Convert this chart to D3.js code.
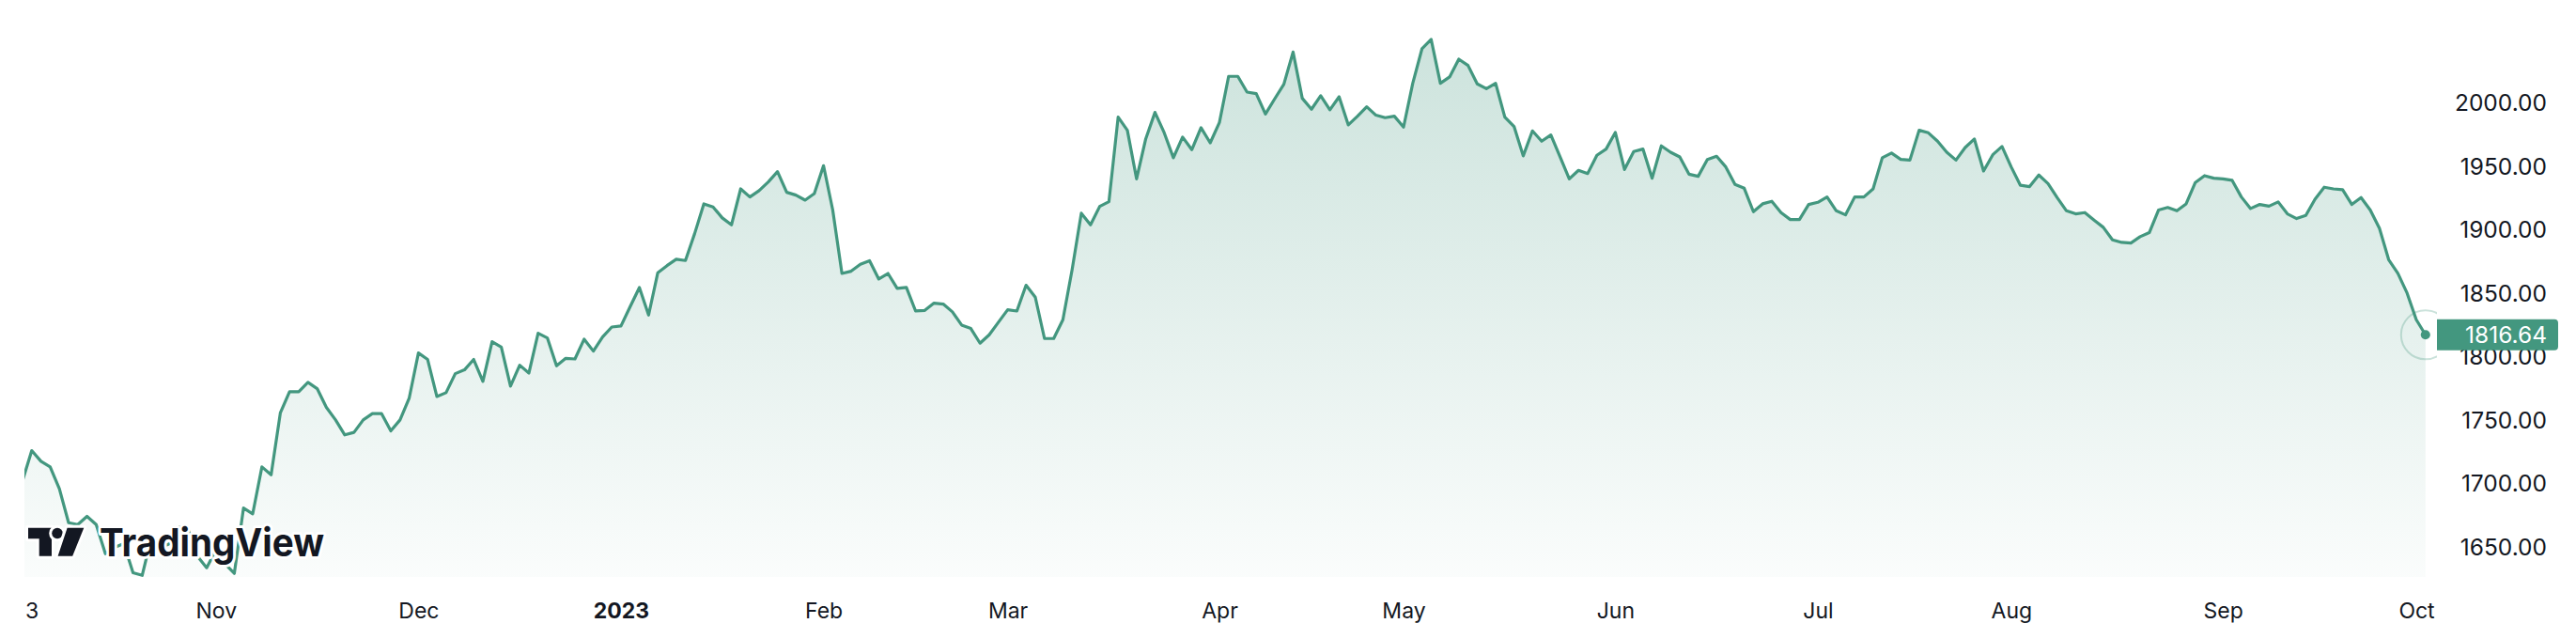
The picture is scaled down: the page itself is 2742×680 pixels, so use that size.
<!DOCTYPE html>
<html><head><meta charset="utf-8">
<script src="https://cdn.jsdelivr.net/npm/d3@7/dist/d3.min.js"></script>
<style>
html,body{margin:0;padding:0;background:#fff;}
svg{display:block;}
</style></head><body>
<svg id="chart" width="2742" height="680"></svg>
<script>
// ---- data ----
const startDate = "2022-10-03";
const endDate = "2023-10-03";
const prices = [
1701.6,1725.3,1716.9,1712.5,1695.2,1668.5,1667.0,1673.5,1667.0,1644.0,
1649.0,1652.0,1629.0,1627.0,1657.0,1649.0,1652.0,1665.0,1663.0,1642.0,
1633.0,1647.0,1636.0,1628.5,1680.0,1675.5,1712.5,1706.3,1755.0,1771.8,
1771.8,1779.2,1774.2,1759.4,1749.5,1737.7,1739.7,1749.5,1754.5,1754.5,
1740.9,1749.5,1766.8,1802.3,1797.2,1768.0,1771.0,1786.0,1789.0,1797.2,
1779.9,1811.2,1807.0,1776.2,1792.7,1786.5,1817.9,1814.2,1792.2,1798.1,
1797.6,1813.2,1803.8,1814.9,1822.8,1823.6,1838.9,1853.9,1832.2,1865.6,
1871.2,1876.2,1875.2,1896.4,1919.9,1917.4,1908.8,1903.3,1931.7,1925.3,
1930.3,1937.2,1945.3,1929.0,1926.8,1922.8,1928.0,1950.0,1915.0,1865.0,
1866.8,1872.2,1875.0,1860.6,1865.0,1853.2,1854.0,1835.4,1835.9,1841.6,
1840.9,1834.7,1824.3,1821.6,1810.0,1816.7,1826.6,1836.4,1835.4,1855.7,
1846.3,1813.7,1813.7,1828.5,1868.0,1912.5,1903.3,1917.9,1921.6,1988.3,
1977.9,1939.6,1971.2,1992.0,1976.0,1956.2,1972.5,1962.6,1979.9,1968.0,
1984.0,2020.4,2020.4,2008.0,2006.8,1990.7,2002.6,2014.2,2039.6,2003.1,
1994.5,2005.1,1994.0,2004.3,1982.1,1989.0,1996.4,1989.8,1987.8,1989.0,
1980.4,2014.9,2042.1,2049.5,2014.9,2019.9,2033.9,2029.0,2014.5,2010.7,
2014.9,1988.3,1980.9,1957.7,1977.4,1969.3,1974.2,1956.9,1939.6,1946.3,
1943.8,1958.2,1963.1,1976.2,1947.0,1961.1,1963.1,1940.1,1965.6,1960.6,
1956.9,1943.3,1941.6,1954.9,1957.4,1949.0,1935.2,1932.2,1913.7,1919.9,
1921.9,1913.0,1907.5,1907.5,1919.4,1921.1,1925.3,1914.4,1911.2,1925.3,
1925.3,1931.7,1956.2,1959.9,1954.9,1954.4,1977.9,1975.9,1969.3,1960.6,
1954.4,1964.3,1971.0,1945.8,1958.6,1965.1,1949.0,1934.5,1933.5,1942.6,
1935.9,1924.8,1914.4,1912.0,1913.0,1907.0,1901.4,1891.5,1889.5,1889.0,
1894.0,1897.2,1915.0,1917.0,1914.4,1919.9,1936.7,1942.1,1940.1,1939.6,
1938.4,1925.3,1916.2,1919.4,1918.1,1921.4,1912.0,1908.3,1910.7,1923.6,
1933.0,1931.7,1931.0,1919.4,1924.8,1915.0,1900.6,1875.9,1865.1,1849.5,
1828.5,1816.64
];
const yTicks = [1650, 1700, 1750, 1800, 1850, 1900, 1950, 2000];
const xTickDates = ["2022-10-03","2022-11-01","2022-12-01","2023-01-02","2023-02-01","2023-03-01","2023-04-03","2023-05-01","2023-06-01","2023-07-03","2023-08-01","2023-09-01","2023-10-02"];
const xTickLabels = ["3","Nov","Dec","2023","Feb","Mar","Apr","May","Jun","Jul","Aug","Sep","Oct"];
const xTickBold = ["2023"];
const logoText = "TradingView";

// ---- layout ----
const W = 2742, H = 680;
const paneLeft = 26, paneRight = 2594, paneBottom = 614;
const lineColor = "#43977f";
const fmt = d3.utcFormat("%Y-%m-%d");
const dates = d3.utcDay.range(new Date(startDate + "T00:00:00Z"), d3.utcDay.offset(new Date(endDate + "T00:00:00Z"), 1))
  .filter(d => d.getUTCDay() !== 0 && d.getUTCDay() !== 6).map(fmt);
const data = dates.map((d, i) => ({date: d, v: prices[i]}));

const x = d3.scalePoint().domain(dates).range([24, 2581.8]);
const y = d3.scaleLinear().domain([1650, 2000]).range([581.2, 108.8]);

const svg = d3.select("#chart");
const defs = svg.append("defs");
const grad = defs.append("linearGradient").attr("id", "fillGrad")
  .attr("gradientUnits", "userSpaceOnUse").attr("x1", 0).attr("x2", 0)
  .attr("y1", y(d3.max(prices))).attr("y2", paneBottom);
grad.append("stop").attr("offset", 0).attr("stop-color", lineColor).attr("stop-opacity", 0.27);
grad.append("stop").attr("offset", 1).attr("stop-color", lineColor).attr("stop-opacity", 0.025);
defs.append("clipPath").attr("id", "paneClip").append("rect")
  .attr("x", paneLeft).attr("y", 0).attr("width", paneRight - paneLeft).attr("height", paneBottom);

const pane = svg.append("g").attr("clip-path", "url(#paneClip)");
pane.append("path").datum(data)
  .attr("d", d3.area().x(d => x(d.date)).y0(paneBottom).y1(d => y(d.v)))
  .attr("fill", "url(#fillGrad)");
pane.append("path").datum(data)
  .attr("d", d3.line().x(d => x(d.date)).y(d => y(d.v)))
  .attr("fill", "none").attr("stroke", lineColor).attr("stroke-width", 3.2)
  .attr("stroke-linejoin", "round").attr("stroke-linecap", "round");

const last = data[data.length - 1];
pane.append("circle").attr("cx", x(last.date)).attr("cy", y(last.v)).attr("r", 26)
  .attr("fill", "none").attr("stroke", lineColor).attr("stroke-opacity", 0.28).attr("stroke-width", 2);
pane.append("circle").attr("cx", x(last.date)).attr("cy", y(last.v)).attr("r", 5)
  .attr("fill", lineColor);

// ---- logo ----
const logo = svg.append("g").attr("transform", "translate(30,561.7)");
const halo = {stroke: "#fff", "stroke-width": 6, "stroke-linejoin": "round", "paint-order": "stroke"};
function applyAttrs(sel, o){ for (const k in o) sel.attr(k, o[k]); return sel; }
applyAttrs(logo.append("path").attr("d", "M0,0H25V30H11.7V11.6H0Z").attr("fill", "#131722"), halo);
applyAttrs(logo.append("circle").attr("cx", 31).attr("cy", 5.8).attr("r", 5.8).attr("fill", "#131722"), halo);
applyAttrs(logo.append("path").attr("d", "M41.6,0H59.3L47.2,30H31.6Z").attr("fill", "#131722"), halo);
applyAttrs(logo.append("text").attr("x", 76).attr("y", 30).text(logoText)
  .attr("font-family", "Inter, 'DejaVu Sans', sans-serif").attr("font-weight", 700)
  .attr("font-size", 41).attr("fill", "#131722")
  .attr("textLength", 239).attr("lengthAdjust", "spacingAndGlyphs"), halo);

// ---- y axis ----
const yAxis = svg.append("g").attr("transform", "translate(2711,0)")
  .call(d3.axisRight(y).tickValues(yTicks).tickFormat(d3.format(".2f")).tickSize(0).tickPadding(0));
yAxis.select(".domain").remove();
yAxis.selectAll("text").attr("text-anchor", "end").attr("x", 0).attr("dy", "0.36em")
  .attr("font-family", "Inter, sans-serif").attr("font-size", 24.5).attr("fill", "#131722");

// ---- x axis ----
const xAxis = svg.append("g").attr("transform", "translate(0,650)")
  .call(d3.axisBottom(x).tickValues(xTickDates).tickFormat((d, i) => xTickLabels[i]).tickSize(0).tickPadding(0));
xAxis.select(".domain").remove();
xAxis.selectAll("text").attr("y", 0).attr("dy", "0.36em")
  .attr("font-family", "Inter, sans-serif").attr("font-size", 23).attr("fill", "#131722")
  .attr("font-weight", d => xTickBold.includes(xTickLabels[xTickDates.indexOf(d)]) ? 700 : 400);
xAxis.selectAll(".tick").each(function(d){
  const t = d3.select(this).select("text");
  const w = t.node().getComputedTextLength();
  const cx = x(d);
  if (cx - w / 2 < paneLeft) t.attr("x", paneLeft + w / 2 + 0.5 - cx);
});

// ---- last price tag ----
const ty = y(last.v), th = 33, tx0 = paneRight, tx1 = 2723, rr = 4;
svg.append("path")
  .attr("d", `M${tx0},${ty - th/2}H${tx1 - rr}Q${tx1},${ty - th/2} ${tx1},${ty - th/2 + rr}V${ty + th/2 - rr}Q${tx1},${ty + th/2} ${tx1 - rr},${ty + th/2}H${tx0}Z`)
  .attr("fill", lineColor);
svg.append("text").attr("x", 2711).attr("y", ty).attr("dy", "0.36em").attr("text-anchor", "end")
  .attr("font-family", "Inter, sans-serif").attr("font-size", 24.5).attr("fill", "#fff")
  .text(d3.format(".2f")(last.v));
</script>
</body></html>
